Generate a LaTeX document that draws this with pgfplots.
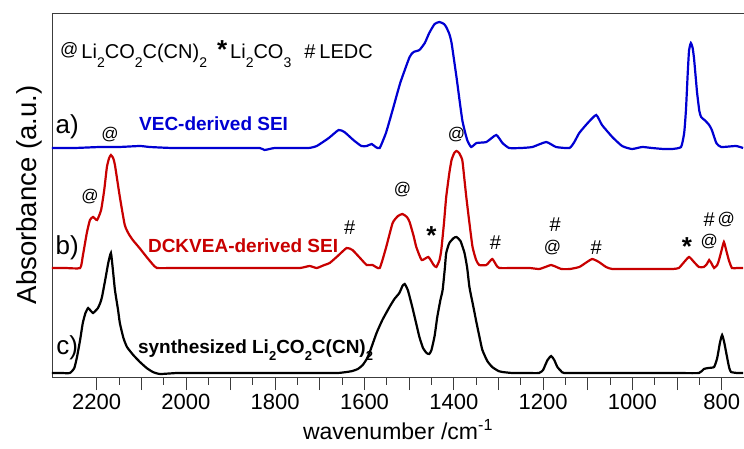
\documentclass[border=0pt]{standalone}
\usepackage{fontspec}
\setmainfont{Liberation Sans}
\usepackage{pgfplots}
\pgfplotsset{compat=1.18}
\definecolor{blueC}{RGB}{0,0,210}
\definecolor{redC}{RGB}{200,0,0}
\definecolor{axc}{RGB}{60,60,60}
\newcommand{\lsub}[1]{\raisebox{-9pt}{\fontsize{14}{14}\selectfont #1}}
\newcommand{\bsub}[1]{\raisebox{-7.5pt}{\fontsize{13}{13}\selectfont\bfseries #1}}
\tikzset{atm/.style={inner sep=0pt, font=\fontsize{17}{18}\selectfont}, hsm/.style={inner sep=0pt, font=\fontsize{20}{22}\selectfont}, stm/.style={inner sep=0pt, font=\fontsize{26}{26}\selectfont\bfseries}}
\begin{document}
\begin{tikzpicture}
\begin{axis}[
  scale only axis, width=692pt, height=364pt,
  at={(0,0)}, anchor=south west,
  x dir=reverse, xmin=750, xmax=2300, ymin=71, ymax=435,
  axis lines*=left, axis line style={axc, line width=0.8pt},
  every tick/.style={axc, line width=0.8pt},
  tick align=outside, xtick pos=bottom, ytick=\empty,
  xtick={800,900,...,2200},
  xticklabels={800,,1000,,1200,,1400,,1600,,1800,,2000,,2200},
  minor x tick num=1,
  major tick length=13pt, minor tick length=7.5pt,
  /pgf/number format/assume math mode=true,
  ticklabel style={font=\fontsize{22}{26}\selectfont},
  xticklabel style={yshift=-1pt},
  xlabel={wavenumber /cm\textsuperscript{-1}},
  xlabel style={font=\fontsize{23}{27}\selectfont, at={(axis description cs:0.5,0)}, anchor=north, yshift=-42pt, inner sep=0pt},
  ylabel={Absorbance (a.u.)},
  ylabel style={font=\fontsize{27.5}{30}\selectfont, at={(axis description cs:-0.0145,0.5)}, anchor=south, inner sep=0pt},
  clip=false,
]
\draw[axc, line width=0.8pt] (rel axis cs:0,1) -- (rel axis cs:1,1);
% a) VEC-derived SEI
\addplot[blueC, line width=2.2pt, smooth, tension=0.3] coordinates {
(2300,300) (2250,300) (2193,301) (2150,301) (2103,302) (2081,301) (2030,300) (1969,300)
(1900,300) (1835,300) (1824,298) (1801,300) (1760,300) (1725,300) (1707,302) (1680,310)
(1658,318) (1645,316) (1625,308) (1607,302) (1595,302) (1584,304) (1575,301) (1566,300)
(1552,315) (1537,338) (1520,365) (1499,391) (1490,396) (1477,398) (1465,405) (1455,415)
(1443,424) (1432,426) (1422,424) (1417,421) (1410,414) (1405,405) (1394,371) (1381,328)
(1370,308) (1361,301) (1349,305) (1327,306) (1305,313) (1291,305) (1276,300) (1250,300)
(1224,301) (1193,306) (1171,301) (1141,300) (1130,306) (1119,315) (1100,325) (1081,333)
(1068,323) (1045,311) (1023,302) (1001,299) (978,301) (956,300) (930,299) (911,299)
(891,301) (884,315) (880,338) (876,375) (873,398) (869,405) (865,400) (862,390) (858,370)
(855,355) (850,337) (846,331) (836,327) (828,323) (822,318) (812,305) (801,301) (768,302)
(752,300)
};
% b) DCKVEA-derived SEI
\addplot[redC, line width=2.2pt, smooth, tension=0.3] coordinates {
(2300,180) (2270,180) (2237,180) (2231,192) (2222,215) (2215,228) (2208,231) (2199,228)
(2190,238) (2183,258) (2177,281) (2172,290) (2168,293) (2163,290) (2159,283) (2148,251)
(2137,223) (2128,214) (2119,208) (2104,200) (2088,191) (2075,184) (2065,180) (2030,180)
(1990,180) (1950,180) (1900,180) (1850,180) (1800,180) (1745,180) (1723,182) (1707,180)
(1690,183) (1678,185) (1660,192) (1640,200) (1627,198) (1610,190) (1595,183) (1582,183)
(1566,180) (1552,200) (1537,225) (1525,232) (1515,234) (1505,231) (1499,226) (1490,212)
(1484,201) (1472,188) (1457,191) (1445,183) (1439,181) (1432,188) (1428,198) (1422,225)
(1417,251) (1410,275) (1405,288) (1399,295) (1394,297) (1388,295) (1381,288) (1377,272)
(1372,251) (1365,225) (1358,201) (1350,188) (1343,183) (1327,183) (1314,189) (1305,183)
(1298,180) (1260,180) (1230,180) (1209,179) (1195,181) (1182,183) (1170,181) (1159,179)
(1140,179) (1119,181) (1105,185) (1090,189) (1075,186) (1059,181) (1045,179) (1000,179)
(950,179) (910,179) (896,180) (884,186) (873,191) (862,186) (851,181) (840,181) (833,184)
(828,188) (822,184) (817,180) (810,183) (806,188) (800,198) (795,206) (790,198) (784,188)
(777,180) (765,180) (752,180)
};
% c) synthesized
\addplot[black, line width=2.2pt, smooth, tension=0.3] coordinates {
(2300,75) (2280,75) (2260,75) (2250,80) (2244,91) (2237,108) (2231,125) (2225,135)
(2219,140) (2213,137) (2208,135) (2203,137) (2197,140) (2192,145) (2188,151) (2180,170)
(2174,185) (2168,195) (2164,180) (2159,158) (2152,138) (2148,125) (2140,110) (2132,101)
(2118,93) (2103,86) (2088,80) (2074,76) (2058,74) (2020,75) (1980,75) (1940,75) (1900,75)
(1850,75) (1800,75) (1750,75) (1700,75) (1660,75) (1640,76) (1627,77) (1615,79) (1604,83)
(1595,89) (1589,95) (1573,115) (1560,128) (1544,141) (1533,149) (1522,155) (1515,162)
(1510,164) (1503,158) (1493,141) (1485,126) (1477,111) (1469,100) (1461,95) (1455,94)
(1450,98) (1443,112) (1437,131) (1430,148) (1425,158) (1420,180) (1417,195) (1410,205)
(1400,210) (1394,211) (1385,207) (1376,195) (1370,180) (1365,161) (1357,143) (1349,125)
(1342,110) (1336,98) (1325,87) (1314,81) (1300,77) (1291,76) (1269,75) (1240,75) (1209,75)
(1200,78) (1197,81) (1190,88) (1182,92) (1175,88) (1168,81) (1160,77) (1153,75) (1100,75)
(1050,75) (1000,75) (950,75) (900,75) (851,75) (840,79) (830,80) (817,81) (810,90)
(804,105) (799,113) (794,105) (788,91) (783,80) (779,76) (765,75) (752,75)
};
% legend line
\node[anchor=base west, inner sep=0pt, font=\fontsize{20}{24}\selectfont] at (axis cs:2282,390)
 {\raisebox{3pt}{\fontsize{18}{18}\selectfont @}\hspace{0.15em}Li\lsub{2}CO\lsub{2}C(CN)\lsub{2}\hspace{0.5em}{\fontsize{26}{26}\selectfont\bfseries *}\hspace{0.15em}Li\lsub{2}CO\lsub{3}\hspace{0.65em}\#\hspace{0.2em}LEDC};
% labels
\node[inner sep=0pt, font=\fontsize{26}{28}\selectfont] at (axis cs:2266,321) {a)};
\node[inner sep=0pt, font=\fontsize{26}{28}\selectfont] at (axis cs:2266,200) {b)};
\node[inner sep=0pt, font=\fontsize{26}{28}\selectfont] at (axis cs:2266,100) {c)};
\node[inner sep=0pt, font=\fontsize{19}{22}\selectfont\bfseries, text=blueC] at (axis cs:1938,324.5) {VEC-derived SEI};
\node[inner sep=0pt, font=\fontsize{19}{22}\selectfont\bfseries, text=redC] at (axis cs:1872,202.5) {DCKVEA-derived SEI};
\node[anchor=base, inner sep=0pt, font=\fontsize{19}{22}\selectfont\bfseries] at (axis cs:1844,95) {synthesized Li\bsub{2}CO\bsub{2}C(CN)\bsub{2}};
% markers
\node[atm] at (axis cs:2170,313) {@};
\node[atm] at (axis cs:1394,313) {@};
\node[atm] at (axis cs:2215,251) {@};
\node[hsm] at (axis cs:1633,220) {\#};
\node[atm] at (axis cs:1515,258) {@};
\node[stm] at (axis cs:1450,212) {*};
\node[hsm] at (axis cs:1307,205) {\#};
\node[hsm] at (axis cs:1173,223) {\#};
\node[atm] at (axis cs:1179,200) {@};
\node[hsm] at (axis cs:1081,200) {\#};
\node[stm] at (axis cs:878,201) {*};
\node[hsm] at (axis cs:828,228) {\#};
\node[atm] at (axis cs:790,228) {@};
\node[atm] at (axis cs:828,206) {@};
\end{axis}
\pgfresetboundingbox
\path[use as bounding box] (-52pt,-71pt) rectangle (692pt,377pt);
\end{tikzpicture}
\end{document}
